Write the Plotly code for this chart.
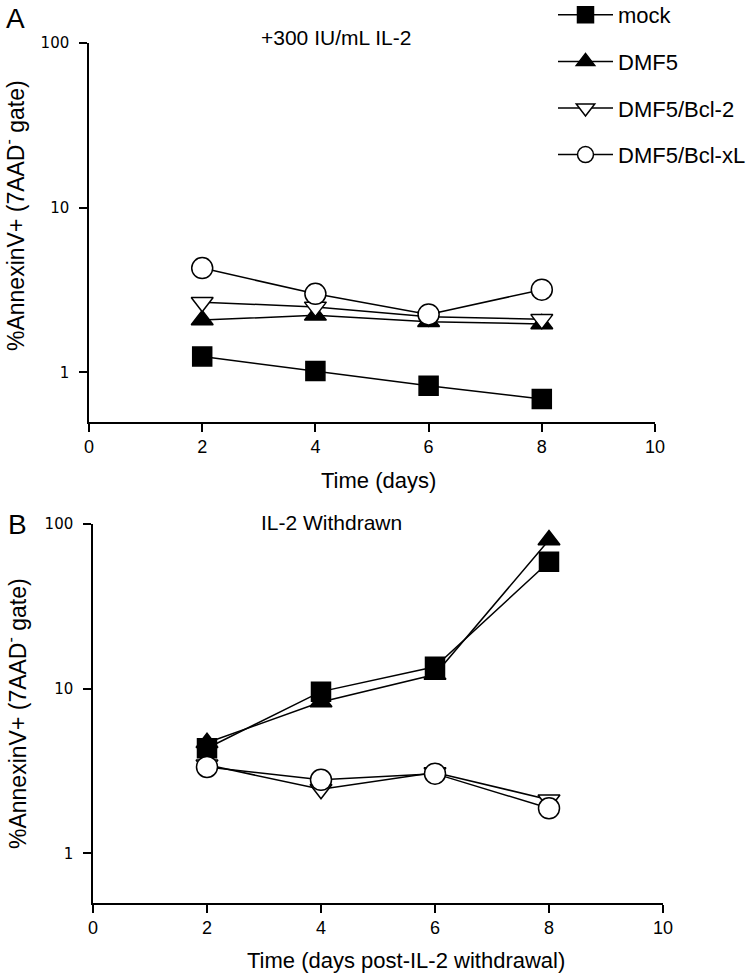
import plotly.graph_objects as go

days = [2, 4, 6, 8]
series_names = ["mock", "DMF5", "DMF5/Bcl-2", "DMF5/Bcl-xL"]

# Panel A: +300 IU/mL IL-2
a_mock = [1.25, 1.02, 0.83, 0.69]
a_dmf5 = [2.08, 2.22, 2.03, 1.97]
a_bcl2 = [2.67, 2.5, 2.18, 2.1]
a_bclxl = [4.3, 3.0, 2.25, 3.18]

# Panel B: IL-2 withdrawn
b_mock = [4.35, 9.6, 13.6, 59]
b_dmf5 = [4.7, 8.3, 12.2, 80]
b_bcl2 = [3.45, 2.45, 3.1, 2.12]
b_bclxl = [3.35, 2.8, 3.05, 1.88]

x_ticks = [0, 2, 4, 6, 8, 10]
y_ticks = [1, 10, 100]

styles = [
    dict(symbol="square", size=19, fill="black"),
    dict(symbol="triangle-up", size=19, fill="black"),
    dict(symbol="triangle-down", size=19, fill="white"),
    dict(symbol="circle", size=21, fill="white"),
]

fig = go.Figure()


def add_series(vals, name, st, xa, ya, show):
    fig.add_trace(go.Scatter(
        x=days, y=vals, mode="lines+markers", name=name,
        line=dict(color="black", width=1.5),
        marker=dict(symbol=st["symbol"], size=st["size"], color=st["fill"],
                    line=dict(color="black", width=1.5)),
        xaxis=xa, yaxis=ya, legendgroup=name, showlegend=show))


for vals, name, st in zip([a_mock, a_dmf5, a_bcl2, a_bclxl], series_names, styles):
    add_series(vals, name, st, "x", "y", True)
for vals, name, st in zip([b_mock, b_dmf5, b_bcl2, b_bclxl], series_names, styles):
    add_series(vals, name, st, "x2", "y2", False)

W, H = 750, 975


def px(x):
    return x / W


def py(y):
    return 1 - y / H


axis_common = dict(showline=True, linecolor="black", linewidth=1.5, ticks="outside",
                   ticklen=8, tickwidth=1.5, tickcolor="black", showgrid=False,
                   zeroline=False, mirror=False, automargin=False)
xfont = dict(family="Liberation Sans Narrow, Liberation Sans, Arial", size=18, color="black")
yfont = dict(family="DejaVu Sans, Verdana", size=15, color="black")

fig.update_layout(
    width=W, height=H,
    paper_bgcolor="white", plot_bgcolor="white",
    margin=dict(l=0, r=0, t=0, b=0, autoexpand=False),
    font=dict(family="Liberation Sans, Arial", color="black"),
    xaxis=dict(domain=[px(89), px(655)], range=[0, 10], tickvals=x_ticks,
               anchor="y", tickfont=xfont, **axis_common),
    yaxis=dict(domain=[py(422), py(43)], type="log", range=[-0.301, 2],
               tickvals=y_ticks, ticktext=[str(v) for v in y_ticks],
               anchor="x", tickfont=yfont, ticklabelstandoff=7, **axis_common),
    xaxis2=dict(domain=[px(93), px(663)], range=[0, 10], tickvals=x_ticks,
                anchor="y2", tickfont=xfont, **axis_common),
    yaxis2=dict(domain=[py(903), py(524)], type="log", range=[-0.301, 2],
                tickvals=y_ticks, ticktext=[str(v) for v in y_ticks],
                anchor="x2", tickfont=yfont, ticklabelstandoff=7, **axis_common),
    legend=dict(x=px(553), y=py(-6), xanchor="left", yanchor="top",
                font=dict(size=22, family="Liberation Sans, Arial"),
                tracegroupgap=15, bgcolor="rgba(0,0,0,0)", itemwidth=55),
    showlegend=True,
)

fam = "Liberation Sans, Arial"
ann = [
    dict(text="A", x=px(15), y=py(19), font=dict(size=28, family=fam)),
    dict(text="B", x=px(17), y=py(524), font=dict(size=28, family=fam)),
    dict(text="+300 IU/mL IL-2", x=px(336), y=py(38), font=dict(size=21, family=fam)),
    dict(text="IL-2 Withdrawn", x=px(331), y=py(522), font=dict(size=21, family=fam)),
    dict(text="%AnnexinV+ (7AAD<sup>-</sup> gate)", x=px(14), y=py(216), textangle=-90,
         font=dict(size=23, family=fam)),
    dict(text="%AnnexinV+ (7AAD<sup>-</sup> gate)", x=px(16), y=py(714), textangle=-90,
         font=dict(size=23, family=fam)),
    dict(text="Time (days)", x=px(378), y=py(480), font=dict(size=22, family=fam)),
    dict(text="Time (days post-IL-2 withdrawal)", x=px(406), y=py(960), font=dict(size=22, family=fam)),
]
for a in ann:
    a.update(xref="paper", yref="paper", showarrow=False, xanchor="center", yanchor="middle")
    fig.add_annotation(**a)

fig.write_html("out.html", config={"displayModeBar": False},
               post_script="document.body.style.margin='0px';")
